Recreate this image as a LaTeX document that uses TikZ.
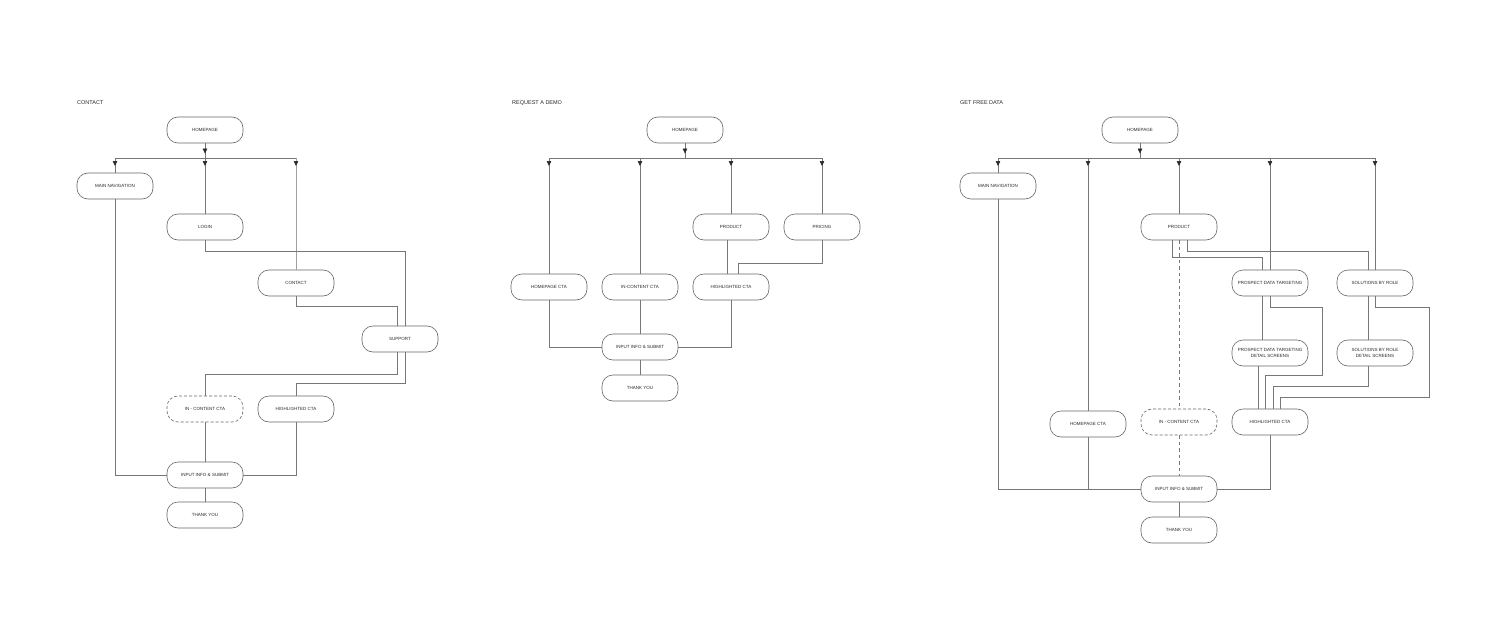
\documentclass[tikz,border=0pt]{standalone}
\usepackage{fontspec}
\setmainfont{Liberation Sans}
\usetikzlibrary{arrows.meta,decorations.markings}
\definecolor{lnc}{HTML}{777777}
\definecolor{lnl}{HTML}{A0A0A0}
\definecolor{boxc}{HTML}{666666}
\definecolor{txt}{HTML}{2A2A2A}
\begin{document}
\begin{tikzpicture}[x=1pt,y=-1pt,
  box/.style={draw=boxc, line width=0.6pt, rounded corners=11pt, minimum width=76pt, minimum height=26pt, inner sep=1pt, font=\fontsize{4.5}{5.2}\selectfont, text=txt, align=center},
  dbox/.style={box, dash pattern=on 3pt off 2pt},
  title/.style={anchor=west, inner sep=0pt, font=\fontsize{5.5}{6}\selectfont, text=txt},
  ln/.style={draw=lnc, line width=0.6pt},
  dln/.style={ln, dash pattern=on 3.5pt off 3pt},
  arr/.style={ln, postaction={decorate}, decoration={markings, mark=at position #1 with {\arrow{Triangle[width=4.5pt,length=5pt,color=txt]}}}}
]
\fill[white] (0,0) rectangle (1509,623);
\useasboundingbox (0,0) rectangle (1509,623);

% ================= CONTACT =================
\node[title] (t1) at (77,103) {CONTACT};
\node[box] (c-home) at (205,130) {HOMEPAGE};
\node[box] (c-nav) at (115,186) {MAIN NAVIGATION};
\node[box] (c-login) at (205,227) {LOGIN};
\node[box] (c-contact) at (296,283) {CONTACT};
\node[box] (c-support) at (400,339) {SUPPORT};
\node[dbox] (c-incta) at (205,409) {IN - CONTENT CTA};
\node[box] (c-hcta) at (296,409) {HIGHLIGHTED CTA};
\node[box] (c-input) at (205,475) {INPUT INFO \& SUBMIT};
\node[box] (c-thanks) at (205,515) {THANK YOU};
\coordinate (c-bus) at (205,158);
\coordinate (c-busL) at (115,158);
\coordinate (c-busR) at (296,158);

\draw[arr=0.7] (c-home) -- (c-bus);
\draw[ln] (c-busL) -- (c-busR);
\draw[arr=8pt] (c-busL) -- (c-nav);
\draw[arr=8pt] (c-bus) -- (c-login);
\draw[arr=8pt, draw=lnl] (c-busR) -- (c-contact);
\draw[ln] (c-login.south) -- ++(0,11) -| ([xshift=5pt]c-support.north);
\draw[ln] (c-contact.south) -- ++(0,10) -| ([xshift=-3pt]c-support.north);
\draw[ln] ([xshift=-3pt]c-support.south) |- ([yshift=21pt]c-incta.north) -- (c-incta.north);
\draw[ln] ([xshift=5pt]c-support.south) |- ([yshift=12pt]c-hcta.north) -- (c-hcta.north);
\draw[ln] (c-nav.south) |- (c-input.west);
\draw[ln] (c-incta) -- (c-input);
\draw[ln] (c-hcta.south) |- (c-input.east);
\draw[ln] (c-input) -- (c-thanks);

% ================= REQUEST A DEMO =================
\node[title] (t2) at (512,103) {REQUEST A DEMO};
\node[box] (d-home) at (685,130) {HOMEPAGE};
\node[box] (d-prod) at (731,227) {PRODUCT};
\node[box] (d-pric) at (822,227) {PRICING};
\node[box] (d-hp) at (549,287) {HOMEPAGE CTA};
\node[box] (d-in) at (640,287) {IN-CONTENT CTA};
\node[box] (d-hc) at (731,287) {HIGHLIGHTED CTA};
\node[box] (d-input) at (640,347) {INPUT INFO \& SUBMIT};
\node[box] (d-thanks) at (640,388) {THANK YOU};
\coordinate (d-bus) at (685,158);
\coordinate (d-busA) at (549,158);
\coordinate (d-busB) at (640,158);
\coordinate (d-busC) at (731,158);
\coordinate (d-busD) at (822,158);

\draw[arr=0.7] (d-home) -- (d-bus);
\draw[ln] (d-busA) -- (d-busD);
\draw[arr=8pt] (d-busA) -- (d-hp);
\draw[arr=8pt] (d-busB) -- (d-in);
\draw[arr=8pt] (d-busC) -- (d-prod);
\draw[arr=8pt] (d-busD) -- (d-pric);
\draw[ln] ([xshift=-4pt]d-prod.south) -- ([xshift=-4pt]d-hc.north);
\draw[ln] (d-pric.south) |- ([xshift=7pt,yshift=10pt]d-hc.north) -- ([xshift=7pt]d-hc.north);
\draw[ln] (d-hp.south) |- (d-input.west);
\draw[ln] (d-in) -- (d-input);
\draw[ln] (d-hc.south) |- (d-input.east);
\draw[ln] (d-input) -- (d-thanks);

% ================= GET FREE DATA =================
\node[title] (t3) at (960,103) {GET FREE DATA};
\node[box] (f-home) at (1140,130) {HOMEPAGE};
\node[box] (f-nav) at (998,186) {MAIN NAVIGATION};
\node[box] (f-prod) at (1179,227) {PRODUCT};
\node[box] (f-pdt) at (1270,283) {PROSPECT DATA TARGETING};
\node[box] (f-sbr) at (1375,283) {SOLUTIONS BY ROLE};
\node[box] (f-pdd) at (1270,353) {PROSPECT DATA TARGETING\\DETAIL SCREENS};
\node[box] (f-sbd) at (1375,353) {SOLUTIONS BY ROLE\\DETAIL SCREENS};
\node[box] (f-hp) at (1088,424) {HOMEPAGE CTA};
\node[dbox] (f-in) at (1179,422) {IN - CONTENT CTA};
\node[box] (f-hc) at (1270,422) {HIGHLIGHTED CTA};
\node[box] (f-input) at (1179,489) {INPUT INFO \& SUBMIT};
\node[box] (f-thanks) at (1179,530) {THANK YOU};
\coordinate (f-bus) at (1140,158);
\coordinate (f-busA) at (998,158);
\coordinate (f-busB) at (1088,158);
\coordinate (f-busC) at (1179,158);
\coordinate (f-busD) at (1270,158);
\coordinate (f-busE) at (1375,158);

\draw[arr=0.7] (f-home) -- (f-bus);
\draw[ln] (f-busA) -- (f-busE);
\draw[arr=8pt] (f-busA) -- (f-nav);
\draw[arr=8pt] (f-busB) -- (f-hp);
\draw[arr=8pt] (f-busC) -- (f-prod);
\draw[arr=8pt] (f-busD) -- (f-pdt);
\draw[arr=8pt] (f-busE) -- (f-sbr);
\draw[ln] ([xshift=-7pt]f-prod.south) |- ([xshift=-8pt,yshift=12pt]f-pdt.north) -- ([xshift=-8pt]f-pdt.north);
\draw[ln] ([xshift=8pt]f-prod.south) |- ([xshift=-7pt,yshift=18pt]f-sbr.north) -- ([xshift=-7pt]f-sbr.north);
\draw[dln] (f-prod) -- (f-in);
\draw[dln] (f-in) -- (f-input);
\draw[ln] ([xshift=-8pt]f-pdt.south) -- ([xshift=-8pt]f-pdd.north);
\draw[ln] (f-pdt.south) |- (1322,307) |- ([xshift=-5pt,yshift=33pt]f-hc.north) -- ([xshift=-5pt]f-hc.north);
\draw[ln] ([xshift=-12pt]f-pdd.south) -- ([xshift=-12pt]f-hc.north);
\draw[ln] ([xshift=-7pt]f-sbr.south) -- ([xshift=-7pt]f-sbd.north);
\draw[ln] (f-sbr.south) |- (1429,307) |- ([xshift=10pt,yshift=11pt]f-hc.north) -- ([xshift=10pt]f-hc.north);
\draw[ln] ([xshift=-7pt]f-sbd.south) |- ([xshift=3pt,yshift=22pt]f-hc.north) -- ([xshift=3pt]f-hc.north);
\draw[ln] (f-hc.south) |- (f-input.east);
\draw[ln] (f-nav.south) |- (f-input.west);
\draw[ln] (f-hp.south) -- (f-hp.south |- f-input.west);
\draw[ln] (f-input) -- (f-thanks);
\end{tikzpicture}
\end{document}
